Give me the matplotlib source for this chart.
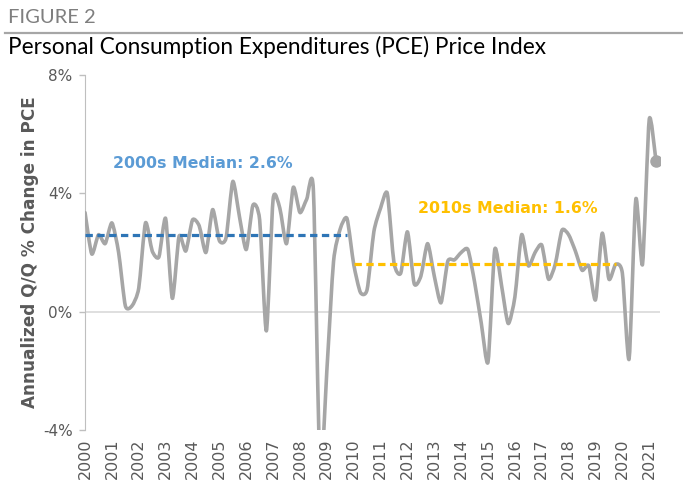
import numpy as np
import matplotlib
matplotlib.use("Agg")
import matplotlib.pyplot as plt
from matplotlib.path import Path
from matplotlib.patches import PathPatch
from matplotlib.lines import Line2D

# quarterly annualized % change in PCE price index, 2000Q1 onward
pce = [3.35, 1.95, 2.6, 2.3, 3.0, 2.0, 0.2, 0.2, 0.8, 3.0, 2.05, 1.85,
       3.15, 0.45, 2.55, 2.05, 3.1, 2.9, 2.0, 3.45, 2.4, 2.5, 4.4, 3.2,
       2.1, 3.6, 3.1, -0.65, 3.8, 3.5, 2.3, 4.2, 3.35, 3.8, 4.1, -5.5,
       -2.0, 1.7, 2.8, 3.15, 1.6, 0.65, 0.75, 2.7, 3.5, 4.0, 1.65, 1.3,
       2.7, 0.95, 1.2, 2.3, 1.2, 0.3, 1.7, 1.75, 2.0, 2.1, 1.0, -0.4,
       -1.7, 2.1, 0.9, -0.4, 0.5, 2.6, 1.55, 2.0, 2.25, 1.1, 1.6, 2.75,
       2.6, 2.05, 1.4, 1.55, 0.4, 2.65, 1.1, 1.6, 1.3, -1.6, 3.8, 1.6,
       6.5, 5.1]
years = [str(y) for y in range(2000, 2022)]
median_2000s = 2.6
median_2010s = 1.6

x = np.arange(len(pce))
y = np.array(pce)

fig = plt.figure(figsize=(6.83, 4.88), dpi=100)
ax = fig.add_axes([0.1245, 0.1189, 0.8418, 0.7274])

# smoothed line (cubic Bezier through the points), like Excel's smoothed line
pts = np.column_stack([x, y])
ext = np.vstack([pts[0], pts, pts[-1]])
verts = [tuple(pts[0])]
codes = [Path.MOVETO]
for i in range(len(pts) - 1):
    p0, p1, p2, p3 = ext[i], ext[i + 1], ext[i + 2], ext[i + 3]
    c1 = p1 + (p2 - p0) / 9
    c2 = p2 - (p3 - p1) / 9
    verts += [tuple(c1), tuple(c2), tuple(p2)]
    codes += [Path.CURVE4] * 3
ax.add_patch(PathPatch(Path(verts, codes), facecolor="none", edgecolor="#a6a6a6",
                       lw=2.6, capstyle="round", joinstyle="round", zorder=3))
ax.plot(x[-1:], y[-1:], "o", color="#a6a6a6", ms=8, zorder=4)

# decade medians
ax.plot([0, 39], [median_2000s] * 2, ls=(0, (2.3, 1.4)), color="#2e75b6", lw=2.3, zorder=5)
ax.plot([40, 79], [median_2010s] * 2, ls=(0, (2.3, 1.4)), color="#ffc000", lw=2.3, zorder=5)
ax.axhline(0, color="#d9d9d9", lw=1.2, zorder=1)

ax.text(4.2, 5.0, "2000s Median: 2.6%", color="#5b9bd5", fontsize=11.3,
        fontweight="bold", va="center")
ax.text(49.6, 3.48, "2010s Median: 1.6%", color="#ffc000", fontsize=11.3,
        fontweight="bold", va="center")

ax.set_xlim(0, 85.6)
ax.set_ylim(-4, 8)
ax.set_yticks([-4, 0, 4, 8])
ax.set_yticklabels(["-4%", "0%", "4%", "8%"])
ax.set_xticks(np.arange(0, 4 * len(years), 4))
ax.set_xticklabels(years, rotation=90)
ax.tick_params(axis="y", colors="#bfbfbf", labelcolor="#595959", labelsize=11,
               length=4, width=1, pad=5)
ax.tick_params(axis="x", length=0, labelcolor="#595959", labelsize=11.5, pad=6)
for s in ["top", "right", "bottom"]:
    ax.spines[s].set_visible(False)
ax.spines["left"].set_color("#bfbfbf")
ax.set_ylabel("Annualized Q/Q % Change in PCE", fontsize=12.2, fontweight="bold",
              color="#595959", labelpad=3)

fig.text(0.012, 0.965, "FIGURE 2", fontsize=14.5, color="#7f7f7f", family="Lato",
         va="center")
fig.add_artist(Line2D([0.007, 1.0], [0.933, 0.933], color="#a6a6a6", lw=1.6))
fig.text(0.012, 0.903, "Personal Consumption Expenditures (PCE) Price Index",
         fontsize=16.3, color="black", family="Lato", va="center")

fig.savefig("out.png", dpi=100)
